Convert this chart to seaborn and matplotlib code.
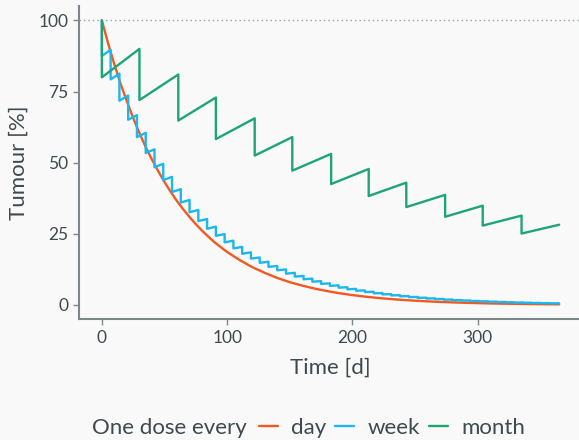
import matplotlib
matplotlib.use("Agg")
import matplotlib.pyplot as plt
import seaborn as sns
import pandas as pd
from matplotlib.lines import Line2D

# ---------------- data ----------------
day_t = [0, 5, 10, 15, 20, 25, 30, 35, 40, 45, 50, 55, 60, 65, 70, 75, 80, 85, 90, 95,
         100, 110, 120, 130, 140, 150, 160, 170, 180, 190, 200, 210, 220, 230, 240,
         250, 260, 270, 280, 290, 300, 310, 320, 330, 340, 350, 360, 365]
day_v = [100, 91.9, 84.5, 77.7, 71.5, 65.7, 60.4, 55.5, 51.1, 47.0, 43.2, 39.7, 36.5,
         33.6, 30.9, 28.4, 26.1, 24.0, 22.0, 20.3, 18.6, 15.8, 13.3, 11.3, 9.5, 8.0,
         6.8, 5.75, 4.86, 4.11, 3.47, 2.94, 2.48, 2.10, 1.77, 1.50, 1.27, 1.07, 0.91,
         0.77, 0.65, 0.54, 0.46, 0.39, 0.33, 0.28, 0.24, 0.22]

# weekly dosing: value right after each dose, value right before next dose
week_dose_t = [7 * i for i in range(53)]
week_after = [87.5, 79.3, 71.8, 65.1, 59.0, 53.4, 48.4, 43.9, 39.7, 36.0, 32.6, 29.5,
              26.8, 24.3, 22.0, 19.9, 18.0, 16.3, 14.8, 13.4, 12.2, 11.0, 9.97, 9.03,
              8.18, 7.41, 6.72, 6.09, 5.51, 5.00, 4.53, 4.10, 3.72, 3.37, 3.05, 2.76,
              2.50, 2.27, 2.06, 1.86, 1.69, 1.53, 1.39, 1.26, 1.14, 1.03, 0.93, 0.85,
              0.77, 0.69, 0.63, 0.57, 0.52]
week_before = [89.7, 81.3, 73.6, 66.7, 60.5, 54.7, 49.6, 45.0, 40.7, 36.9, 33.4, 30.2,
               27.5, 24.9, 22.6, 20.4, 18.5, 16.7, 15.2, 13.7, 12.5, 11.3, 10.2, 9.26,
               8.38, 7.60, 6.89, 6.24, 5.65, 5.13, 4.64, 4.20, 3.81, 3.45, 3.13, 2.83,
               2.56, 2.33, 2.11, 1.91, 1.73, 1.57, 1.42, 1.29, 1.17, 1.06, 0.95, 0.87,
               0.79, 0.71, 0.65, 0.58, 0.52]

# monthly dosing
month_dose_t = [0, 30, 61, 91, 122, 152, 183, 213, 243, 274, 304, 335]
month_after = [80, 72, 64.8, 58.3, 52.5, 47.2, 42.5, 38.3, 34.4, 31.0, 27.9, 25.1]
month_before = [90, 81, 72.9, 65.6, 59.0, 53.1, 47.8, 43.0, 38.7, 34.9, 31.4, 28.2]

end_t = 365
series_names = ["day", "week", "month"]
colors = ["#f0591f", "#1cb7ee", "#1fa574"]
x_ticks = [0, 100, 200, 300]
y_ticks = [0, 25, 50, 75, 100]


def sawtooth(dose_t, after, before, name):
    rows = [(0, 100, name)]
    for i, t in enumerate(dose_t):
        rows.append((t, after[i], name))
        t_next = dose_t[i + 1] if i + 1 < len(dose_t) else end_t
        rows.append((t_next, before[i], name))
        if i + 1 < len(dose_t):
            rows.append((t_next, before[i], name))
    return rows


rows = [(t, v, "day") for t, v in zip(day_t, day_v)]
rows += sawtooth(week_dose_t, week_after, week_before, "week")
rows += sawtooth(month_dose_t, month_after, month_before, "month")
df = pd.DataFrame(rows, columns=["Time", "Tumour", "Dose"])

# ---------------- style ----------------
sns.set_theme(style="ticks")
bg = "#f9f9f9"
spine_c = "#7d878b"
text_c = "#3e4a4f"
plt.rcParams["font.family"] = ["Lato", "DejaVu Sans"]

fig = plt.figure(figsize=(5.79, 4.40), dpi=100, facecolor=bg)
ax = fig.add_axes([79 / 579, 1 - 319.2 / 440, 503 / 579, 313 / 440])
ax.set_facecolor(bg)

ax.axhline(100, color="#9aa0a3", lw=1.0, ls=(0, (1, 2.2)), zorder=1)

sns.lineplot(data=df, x="Time", y="Tumour", hue="Dose", hue_order=series_names,
             palette=colors, sort=False, estimator=None, lw=1.7, ax=ax, legend=False)

ax.set_xlim(-18.25, 383.25)
ax.set_ylim(-5, 105)
ax.set_xticks(x_ticks)
ax.set_yticks(y_ticks)
for s in ["top", "right"]:
    ax.spines[s].set_visible(False)
for s in ["left", "bottom"]:
    ax.spines[s].set_color(spine_c)
    ax.spines[s].set_linewidth(1.5)
ax.tick_params(colors=spine_c, labelcolor=text_c, labelsize=12.5, length=4, width=1)
ax.set_xlabel("Time [d]", fontsize=16, color=text_c, labelpad=9)
ax.set_ylabel("Tumour [%]", fontsize=16, color=text_c, labelpad=7)

handles = [Line2D([], [], color=c, lw=1.7) for c in colors]
fig.text(247 / 579, 1 - 428 / 440, "One dose every", ha="right", va="center",
         fontsize=16, color=text_c)
leg = fig.legend(handles, series_names, loc="center left",
                 bbox_to_anchor=(259 / 579, 1 - 428 / 440), ncol=3, frameon=False,
                 fontsize=16, handlelength=0.85, handletextpad=0.6, columnspacing=0.4,
                 borderaxespad=0, borderpad=0)
for t in leg.get_texts():
    t.set_color(text_c)

fig.savefig("out.png", dpi=100, facecolor=bg)
